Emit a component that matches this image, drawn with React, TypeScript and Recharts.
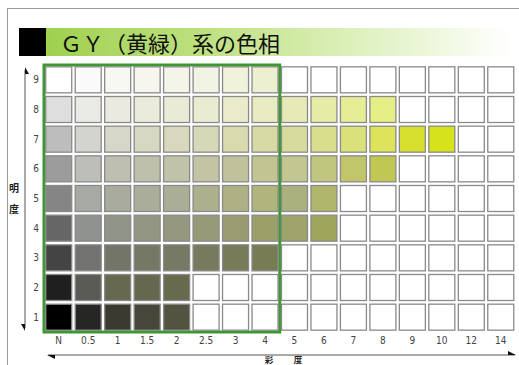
import { ScatterChart, Scatter, XAxis, YAxis, ReferenceArea } from "recharts";

// 彩度 (chroma) columns and 明度 (value) rows
const chromaLabels = ["N", "0.5", "1", "1.5", "2", "2.5", "3", "4", "5", "6", "7", "8", "9", "10", "12", "14"];
const valueLevels = [9, 8, 7, 6, 5, 4, 3, 2, 1];

// swatch colours per value row, one per chroma column ("" = no swatch)
const value9 = ["#ffffff", "#fafafa", "#f8f8f3", "#f6f6ee", "#f4f5e8", "#f2f4e3", "#f0f2dc", "#edf0d0", "", "", "", "", "", "", "", ""];
const value8 = ["#dedede", "#ebebe6", "#eaeae0", "#ebebdc", "#eaebd6", "#eaecd2", "#e9ebcb", "#e9ecc2", "#e7eab6", "#e6eca5", "#e6ed95", "#e6ee86", "", "", "", ""];
const value7 = ["#bdbdbd", "#d3d4cf", "#d6d7c8", "#d6d8c3", "#d7d8bd", "#d6d9b7", "#d8dbae", "#d7daa4", "#d7dc9e", "#d9de8c", "#dae07a", "#dde35a", "#d8e02e", "#d6e21a", "", ""];
const value6 = ["#9c9c9c", "#bdbeb9", "#bebfb0", "#bec0ab", "#c1c3a9", "#c2c4a3", "#bfc29a", "#c2c592", "#c2c690", "#c1c67f", "#c0c669", "#bfc853", "", "", "", ""];
const value5 = ["#858585", "#a7aaa4", "#a9ab9f", "#abad9b", "#abae96", "#adb08c", "#aeb183", "#b0b57d", "#aab07e", "#b0b66c", "", "", "", "", "", ""];
const value4 = ["#666666", "#909290", "#919488", "#939683", "#95987f", "#969a77", "#989c70", "#9aa068", "#9ea46c", "#9fa55a", "", "", "", "", "", ""];
const value3 = ["#444444", "#727370", "#747569", "#767866", "#767963", "#777a5d", "#777b58", "#787c55", "", "", "", "", "", "", "", ""];
const value2 = ["#1f1f1f", "#5a5a56", "#666850", "#65674f", "#676a4d", "", "", "", "", "", "", "", "", "", "", ""];
const value1 = ["#000000", "#262624", "#3a3a30", "#46473a", "#525340", "", "", "", "", "", "", "", "", "", "", ""];

const swatchRows = [value9, value8, value7, value6, value5, value4, value3, value2, value1];

// the low-chroma block outlined in green (N .. 4)
const highlightChroma = ["N", "4"];

const cells = valueLevels.flatMap((v, r) =>
  chromaLabels.map((_, c) => ({ x: c, y: v, color: swatchRows[r][c] || "#ffffff" }))
);

const tickFont = "'Liberation Sans Narrow', 'DejaVu Sans Condensed', sans-serif";
const cjkFont = "'Noto Sans CJK JP', sans-serif";

function Swatch(props: any) {
  const { cx, cy, payload } = props;
  if (cx == null || cy == null) return null;
  return (
    <rect
      x={cx - 13}
      y={cy - 13}
      width={26}
      height={26}
      fill={payload.color}
      stroke="#8a8a8a"
      strokeWidth={1.3}
    />
  );
}

export default function App() {
  const hx1 = chromaLabels.indexOf(highlightChroma[0]) - 0.5;
  const hx2 = chromaLabels.indexOf(highlightChroma[1]) + 0.5;

  return (
    <div
      style={{
        position: "absolute",
        left: 0,
        top: 0,
        width: 519,
        height: 365,
        background: "#fff",
        overflow: "hidden",
      }}
    >
      {/* frame + title bar */}
      <div style={{ position: "absolute", left: 7, top: 8, width: 512, height: 1, background: "#999" }} />
      <div style={{ position: "absolute", left: 7, top: 8, width: 1, height: 357, background: "#999" }} />
      <div style={{ position: "absolute", left: 19, top: 28, width: 27, height: 28, background: "#000" }} />
      <div
        style={{
          position: "absolute",
          left: 46,
          top: 28,
          width: 466,
          height: 28,
          background: "linear-gradient(to right, #9fd14f 0%, #bfe182 35%, #dff1c0 68%, #ffffff 100%)",
        }}
      />
      <div
        style={{
          position: "absolute",
          left: 60,
          top: 26,
          height: 32,
          lineHeight: "32px",
          fontFamily: cjkFont,
          fontSize: 22,
          color: "#111",
          whiteSpace: "nowrap",
        }}
      >
        ＧＹ（黄緑）系の色相
      </div>

      <div style={{ position: "absolute", left: 0, top: 0 }}>
        <ScatterChart width={519} height={365} margin={{ top: 65, right: 3.5, bottom: 13, left: 0 }}>
          <XAxis
            type="number"
            dataKey="x"
            domain={[-0.5, 15.5]}
            ticks={chromaLabels.map((_, i) => i)}
            tickFormatter={(v: number) => chromaLabels[v]}
            axisLine={false}
            tickLine={false}
            tickSize={0}
            tickMargin={5}
            height={20}
            interval={0}
            tick={{ fontSize: 10, fill: "#444", fontFamily: tickFont }}
          />
          <YAxis
            type="number"
            dataKey="y"
            domain={[0.5, 9.5]}
            ticks={[...valueLevels].reverse()}
            axisLine={false}
            tickLine={false}
            tickSize={0}
            tickMargin={5}
            width={44}
            interval={0}
            tick={{ fontSize: 10, fill: "#444", fontFamily: tickFont }}
          />
          <Scatter data={cells} shape={Swatch} isAnimationActive={false} />
          <ReferenceArea
            x1={hx1}
            x2={hx2}
            y1={0.5}
            y2={9.5}
            fill="none"
            fillOpacity={0}
            stroke="#3a9a2f"
            strokeWidth={3}
            ifOverflow="visible"
          />
        </ScatterChart>
      </div>

      {/* axis arrows and titles */}
      <svg width={519} height={365} style={{ position: "absolute", left: 0, top: 0, pointerEvents: "none" }}>
        <line x1={25} y1={70} x2={25} y2={328} stroke="#555" strokeWidth={1} />
        <polygon points="25,67 29,74 25,74" fill="#111" />
        <polygon points="25,331 21,324 25,324" fill="#111" />
        <line x1={48} y1={355} x2={515} y2={355} stroke="#555" strokeWidth={1} />
        <polygon points="47,355 55,355 55,359" fill="#111" />
        <polygon points="516,355 508,355 508,351" fill="#111" />
        <text x={14} y={192} fontSize={10} fontWeight={700} textAnchor="middle" fill="#222" fontFamily={cjkFont}>
          明
        </text>
        <text x={14} y={213} fontSize={10} fontWeight={700} textAnchor="middle" fill="#222" fontFamily={cjkFont}>
          度
        </text>
        <text x={269} y={362.5} fontSize={8.5} fontWeight={700} textAnchor="middle" fill="#222" fontFamily={cjkFont}>
          彩
        </text>
        <text x={298} y={362.5} fontSize={8.5} fontWeight={700} textAnchor="middle" fill="#222" fontFamily={cjkFont}>
          度
        </text>
      </svg>
    </div>
  );
}
